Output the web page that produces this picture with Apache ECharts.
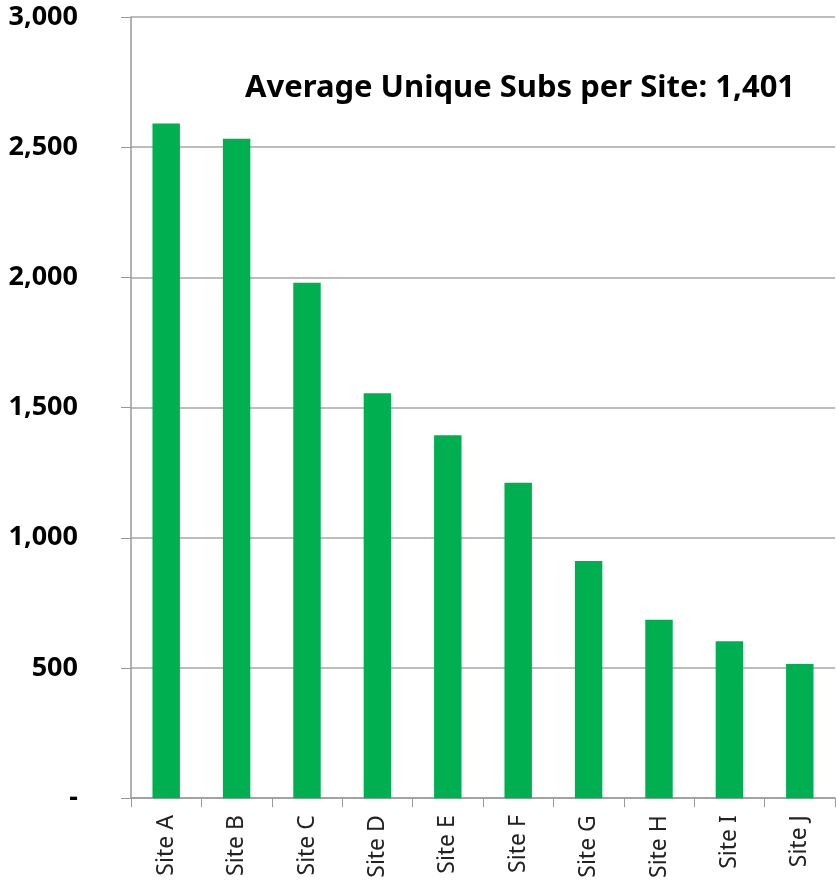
<!DOCTYPE html>
<html>
<head>
<meta charset="utf-8">
<script src="https://cdn.jsdelivr.net/npm/echarts@6/dist/echarts.min.js"></script>
<style>
  html, body { margin: 0; padding: 0; background: #fff; }
  #chart { width: 836px; height: 881px; }
</style>
</head>
<body>
<div id="chart"></div>
<script>
// values
const sites = ['Site A', 'Site B', 'Site C', 'Site D', 'Site E', 'Site F', 'Site G', 'Site H', 'Site I', 'Site J'];
const uniqueSubs = [2591, 2532, 1979, 1555, 1394, 1211, 911, 685, 603, 515];
const yTicks = [0, 500, 1000, 1500, 2000, 2500, 3000];
const avgLabel = 'Average Unique Subs per Site: 1,401';

const myChart = echarts.init(document.getElementById('chart'));
myChart.setOption({
  animation: false,
  title: {
    text: avgLabel,
    left: 240,
    top: 68,
    textStyle: {
      fontFamily: 'Noto Sans',
      fontSize: 31,
      fontWeight: 'bold',
      color: '#000',
    },
  },
  grid: {
    left: 131,
    right: 1,
    top: 17,
    bottom: 80,
  },
  xAxis: {
    type: 'category',
    data: sites,
    axisTick: {
      show: true,
      alignWithLabel: false,
      length: 9,
      lineStyle: { color: '#999' },
    },
    axisLine: {
      lineStyle: { color: '#999', width: 1.5 },
    },
    axisLabel: {
      rotate: 90,
      margin: 17,
      fontFamily: 'Noto Sans',
      fontSize: 23,
      color: '#222',
    },
  },
  yAxis: {
    type: 'value',
    min: yTicks[0],
    max: yTicks[yTicks.length - 1],
    interval: 500,
    axisLine: {
      show: true,
      lineStyle: { color: '#999', width: 1.5 },
    },
    axisTick: {
      show: true,
      length: 10,
      lineStyle: { color: '#999' },
    },
    splitLine: {
      lineStyle: { color: '#a6a6a6', width: 1.5 },
    },
    axisLabel: {
      margin: 53,
      fontFamily: 'Noto Sans',
      fontSize: 27,
      fontWeight: 'bold',
      color: '#000',
      formatter: function (v) {
        return v === 0 ? '-' : v.toLocaleString('en-US');
      },
    },
  },
  series: [
    {
      type: 'bar',
      data: uniqueSubs,
      barWidth: '39%',
      itemStyle: { color: '#00B050' },
    },
  ],
});
</script>
</body>
</html>
